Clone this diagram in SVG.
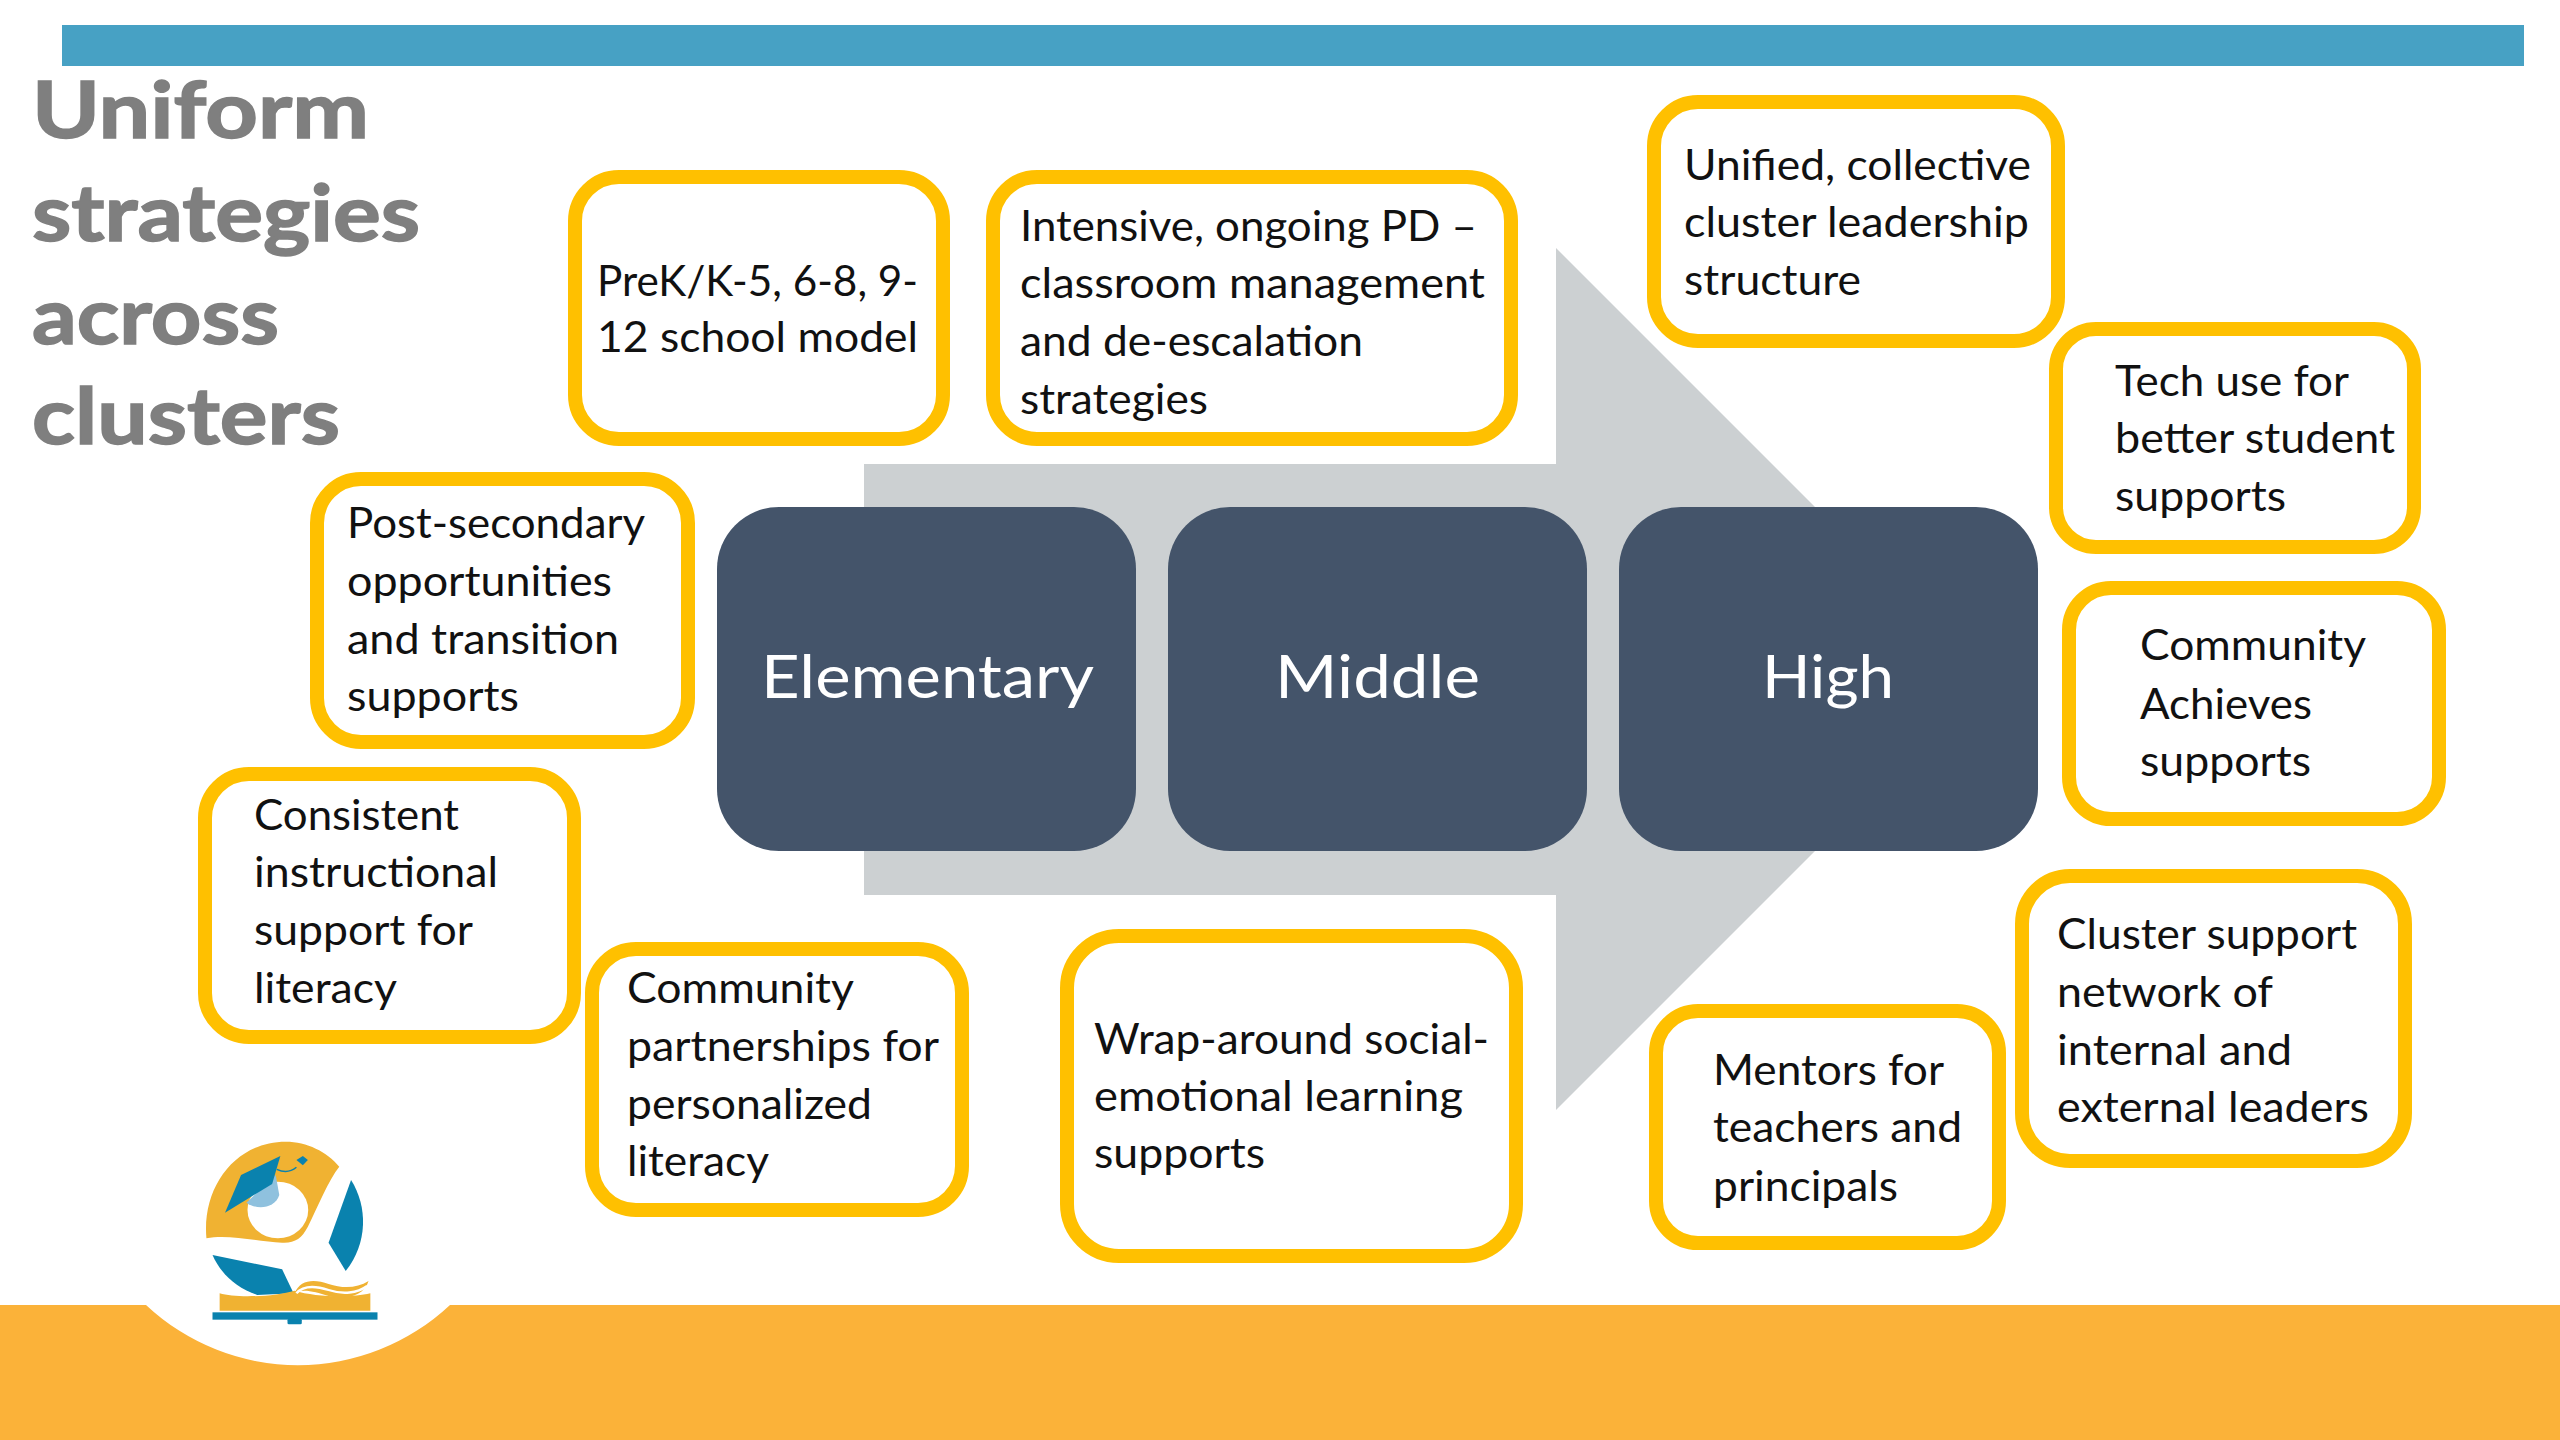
<svg xmlns="http://www.w3.org/2000/svg" width="2560" height="1440" viewBox="0 0 2560 1440">
<style>
text{font-family:"Lato","Carlito","Open Sans",sans-serif}
.t{font-size:43px;fill:#111}
.h{font-size:79px;font-weight:700;fill:#7f7f7f;stroke:#7f7f7f;stroke-width:1.5}
.d{font-size:60px;fill:#fff}
.b{fill:#fff;stroke:#ffc000;stroke-width:14}
.k{fill:#44546a}
.bl{fill:#0a82ae}
.go{fill:#f0b232}
</style>
<rect width="2560" height="1440" fill="#fff"/>
<rect x="62" y="25" width="2462" height="41" fill="#47a1c4"/>
<path d="M0 1305H146A222 222 0 0 0 450 1305H2560V1440H0Z" fill="#fbb239"/>
<g id="title">
<text class="h" x="32" y="138" textLength="337" lengthAdjust="spacingAndGlyphs">Uniform</text>
<text class="h" x="32" y="241" textLength="388" lengthAdjust="spacingAndGlyphs">strategies</text>
<text class="h" x="32" y="344" textLength="247" lengthAdjust="spacingAndGlyphs">across</text>
<text class="h" x="32" y="444" textLength="308" lengthAdjust="spacingAndGlyphs">clusters</text>
</g>
<g id="connectors">
<path id="arrow" d="M864 464H1556V248L1987 679L1556 1110V895H864Z" fill="#ccd0d2"/>
</g>
<g id="node-elementary"><rect class="k" x="717" y="507" width="419" height="344" rx="62"/><text class="d" x="761" y="698" textLength="333" lengthAdjust="spacingAndGlyphs">Elementary</text></g>
<g id="node-middle"><rect class="k" x="1168" y="507" width="419" height="344" rx="62"/><text class="d" x="1275" y="698" textLength="205" lengthAdjust="spacingAndGlyphs">Middle</text></g>
<g id="node-high"><rect class="k" x="1619" y="507" width="419" height="344" rx="62"/><text class="d" x="1762" y="698" textLength="132" lengthAdjust="spacingAndGlyphs">High</text></g>
<g id="node-school-model"><rect class="b" x="575" y="177" width="368" height="262" rx="44"/>
<text class="t" x="597" y="296" textLength="321" lengthAdjust="spacingAndGlyphs">PreK/K-5, 6-8, 9-</text>
<text class="t" x="597" y="352" textLength="321" lengthAdjust="spacingAndGlyphs">12 school model</text></g>
<g id="node-pd"><rect class="b" x="993" y="177" width="518" height="262" rx="44"/>
<text class="t" x="1020" y="241" textLength="457" lengthAdjust="spacingAndGlyphs">Intensive, ongoing PD –</text>
<text class="t" x="1020" y="298" textLength="465" lengthAdjust="spacingAndGlyphs">classroom management</text>
<text class="t" x="1020" y="356" textLength="343" lengthAdjust="spacingAndGlyphs">and de-escalation</text>
<text class="t" x="1020" y="414" textLength="188" lengthAdjust="spacingAndGlyphs">strategies</text></g>
<g id="node-leadership"><rect class="b" x="1654" y="102" width="404" height="239" rx="44"/>
<text class="t" x="1684" y="180" textLength="347" lengthAdjust="spacingAndGlyphs">Unified, collective</text>
<text class="t" x="1684" y="237" textLength="345" lengthAdjust="spacingAndGlyphs">cluster leadership</text>
<text class="t" x="1684" y="295" textLength="177" lengthAdjust="spacingAndGlyphs">structure</text></g>
<g id="node-tech"><rect class="b" x="2056" y="329" width="358" height="218" rx="40"/>
<text class="t" x="2115" y="396" textLength="234" lengthAdjust="spacingAndGlyphs">Tech use for</text>
<text class="t" x="2115" y="453" textLength="280" lengthAdjust="spacingAndGlyphs">better student</text>
<text class="t" x="2115" y="511" textLength="171" lengthAdjust="spacingAndGlyphs">supports</text></g>
<g id="node-community-achieves"><rect class="b" x="2069" y="588" width="370" height="231" rx="42"/>
<text class="t" x="2140" y="660" textLength="226" lengthAdjust="spacingAndGlyphs">Community</text>
<text class="t" x="2140" y="719" textLength="172" lengthAdjust="spacingAndGlyphs">Achieves</text>
<text class="t" x="2140" y="776" textLength="171" lengthAdjust="spacingAndGlyphs">supports</text></g>
<g id="node-support-network"><rect class="b" x="2022" y="876" width="383" height="285" rx="48"/>
<text class="t" x="2057" y="949" textLength="300" lengthAdjust="spacingAndGlyphs">Cluster support</text>
<text class="t" x="2057" y="1007" textLength="216" lengthAdjust="spacingAndGlyphs">network of</text>
<text class="t" x="2057" y="1065" textLength="235" lengthAdjust="spacingAndGlyphs">internal and</text>
<text class="t" x="2057" y="1122" textLength="312" lengthAdjust="spacingAndGlyphs">external leaders</text></g>
<g id="node-mentors"><rect class="b" x="1656" y="1011" width="343" height="232" rx="42"/>
<text class="t" x="1713" y="1085" textLength="231" lengthAdjust="spacingAndGlyphs">Mentors for</text>
<text class="t" x="1713" y="1142" textLength="249" lengthAdjust="spacingAndGlyphs">teachers and</text>
<text class="t" x="1713" y="1201" textLength="185" lengthAdjust="spacingAndGlyphs">principals</text></g>
<g id="node-wraparound"><rect class="b" x="1067" y="936" width="449" height="320" rx="52"/>
<text class="t" x="1094" y="1054" textLength="395" lengthAdjust="spacingAndGlyphs">Wrap-around social-</text>
<text class="t" x="1094" y="1111" textLength="369" lengthAdjust="spacingAndGlyphs">emotional learning</text>
<text class="t" x="1094" y="1168" textLength="171" lengthAdjust="spacingAndGlyphs">supports</text></g>
<g id="node-partnerships"><rect class="b" x="592" y="949" width="370" height="261" rx="44"/>
<text class="t" x="627" y="1003" textLength="227" lengthAdjust="spacingAndGlyphs">Community</text>
<text class="t" x="627" y="1061" textLength="312" lengthAdjust="spacingAndGlyphs">partnerships for</text>
<text class="t" x="627" y="1119" textLength="245" lengthAdjust="spacingAndGlyphs">personalized</text>
<text class="t" x="627" y="1176" textLength="142" lengthAdjust="spacingAndGlyphs">literacy</text></g>
<g id="node-instructional"><rect class="b" x="205" y="774" width="369" height="263" rx="44"/>
<text class="t" x="254" y="830" textLength="205" lengthAdjust="spacingAndGlyphs">Consistent</text>
<text class="t" x="254" y="887" textLength="244" lengthAdjust="spacingAndGlyphs">instructional</text>
<text class="t" x="254" y="945" textLength="219" lengthAdjust="spacingAndGlyphs">support for</text>
<text class="t" x="254" y="1003" textLength="143" lengthAdjust="spacingAndGlyphs">literacy</text></g>
<g id="node-postsecondary"><rect class="b" x="317" y="479" width="371" height="263" rx="44"/>
<text class="t" x="347" y="538" textLength="298" lengthAdjust="spacingAndGlyphs">Post-secondary</text>
<text class="t" x="347" y="596" textLength="265" lengthAdjust="spacingAndGlyphs">opportunities</text>
<text class="t" x="347" y="654" textLength="272" lengthAdjust="spacingAndGlyphs">and transition</text>
<text class="t" x="347" y="711" textLength="172" lengthAdjust="spacingAndGlyphs">supports</text></g>
<g id="logo" transform="translate(0 1080) scale(.35714 .33333)">
<path class="go" d="M578 475C565 320 660 185 800 185C860 185 915 215 950 260C920 300 890 380 862 440C845 475 825 490 790 488C720 485 640 462 578 475Z"/>
<ellipse cx="778" cy="390" rx="85" ry="85" fill="#fff"/>
<path d="M690 368L772 285L782 345C770 385 720 392 690 368Z" fill="#8fc1de"/>
<path class="bl" d="M785 228L675 285L630 398L762 312Z"/>
<path d="M775 268C795 278 815 275 830 262" fill="none" stroke="#0a82ae" stroke-width="4"/>
<path class="bl" d="M830 240L848 228L862 240L848 256Z"/>
<path class="bl" d="M983 300C1030 380 1030 490 968 573L920 488Z"/>
<path class="bl" d="M595 525L790 568L822 640L720 645C665 625 620 585 595 525Z"/>
<path class="go" d="M615 640C660 655 770 650 825 632C880 650 980 655 1037 640V692H615Z"/>
<path d="M825 640C840 598 880 596 920 612C960 626 1000 625 1032 603C1020 650 960 662 920 648C880 634 845 625 825 640Z" class="go"/>
<path d="M830 640C850 615 885 618 920 630C960 644 1000 640 1028 618" fill="none" stroke="#fff" stroke-width="7"/>
<rect class="bl" x="595" y="697" width="462" height="22"/>
<rect class="bl" x="805" y="717" width="40" height="16" rx="4"/>
</g>
</svg>
